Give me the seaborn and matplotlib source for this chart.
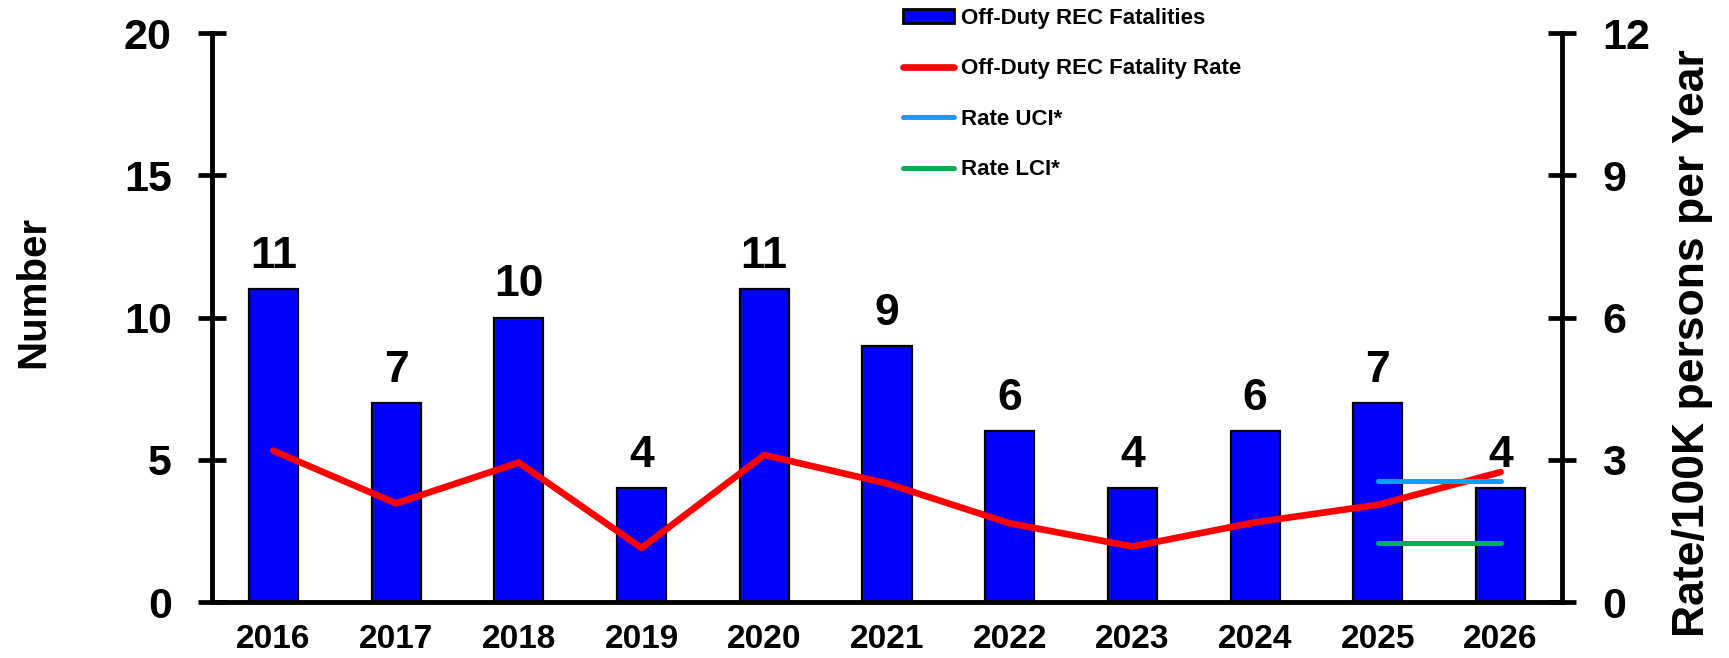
import numpy as np
import pandas as pd
import matplotlib.pyplot as plt
import seaborn as sns
from matplotlib.patches import Patch
from matplotlib.lines import Line2D

# Data
years = [2016, 2017, 2018, 2019, 2020, 2021, 2022, 2023, 2024, 2025, 2026]
fatalities = [11, 7, 10, 4, 11, 9, 6, 4, 6, 7, 4]
fatality_rate = [3.19, 2.08, 2.94, 1.14, 3.1, 2.5, 1.66, 1.17, 1.68, 2.05, 2.74]
ci_years = [2025, 2026]
rate_uci = [2.55, 2.55]
rate_lci = [1.24, 1.24]

sns.set_style("white")
plt.rcParams["font.family"] = ["Liberation Sans", "DejaVu Sans"]
plt.rcParams["font.weight"] = "bold"
for key in ["text.color", "axes.labelcolor", "xtick.color", "ytick.color"]:
    plt.rcParams[key] = "black"

df = pd.DataFrame({"Year": [str(y) for y in years], "Fatalities": fatalities,
                   "Pos": np.arange(len(years)), "Rate": fatality_rate})
ci_df = pd.DataFrame({"Pos": [years.index(y) for y in ci_years],
                      "UCI": rate_uci, "LCI": rate_lci})

fig, ax = plt.subplots(figsize=(17.29, 6.58), dpi=100)
fig.subplots_adjust(left=0.1226, right=0.9034, bottom=0.0851, top=0.9498)

sns.barplot(data=df, x="Year", y="Fatalities", color="#0000FF", saturation=1,
            edgecolor="black", linewidth=1.6, width=0.4, ax=ax)
for i, v in enumerate(fatalities):
    ax.text(i, v + 0.74, str(v), ha="center", va="baseline", fontsize=32, fontweight="bold")

ax2 = ax.twinx()
sns.lineplot(data=df, x="Pos", y="Rate", color="#FF0000", linewidth=4.8, ax=ax2)
sns.lineplot(data=ci_df, x="Pos", y="UCI", color="#0AA0F5", linewidth=3.6,
             solid_capstyle="round", ax=ax2)
sns.lineplot(data=ci_df, x="Pos", y="LCI", color="#00B050", linewidth=3.6,
             solid_capstyle="round", ax=ax2)

ax.set_xlim(-0.5, len(years) - 0.5)
ax.set_ylim(0, 20)
ax.set_yticks([0, 5, 10, 15, 20])
ax2.set_ylim(0, 12)
ax2.set_yticks([0, 3, 6, 9, 12])

# x ticks at category boundaries, labels at centres
ax.set_xticks(np.arange(len(years)), [str(y) for y in years])
ax.set_xticks(np.arange(-0.5, len(years)), minor=True)
ax.tick_params(axis="x", which="major", length=0, pad=16, labelsize=24)
ax.tick_params(axis="x", which="minor", direction="inout", length=20, width=3.4)
ax.tick_params(axis="y", direction="inout", length=20, width=3.4, pad=19, labelsize=31)
ax2.tick_params(axis="y", direction="inout", length=20, width=3.4, pad=19, labelsize=31)

for a in (ax, ax2):
    for s in a.spines.values():
        s.set_visible(False)
    a.set_xlabel("")
ax.spines["left"].set_visible(True)
ax.spines["bottom"].set_visible(True)
ax2.spines["right"].set_visible(True)
for s in [ax.spines["left"], ax.spines["bottom"], ax2.spines["right"]]:
    s.set_linewidth(3.5)
    s.set_color("black")

ax.set_ylabel("Number", fontsize=29, fontweight="bold", va="center")
ax.yaxis.set_label_coords(-0.1326, 0.545)
ax2.set_ylabel("Rate/100K persons per Year", fontsize=32, fontweight="bold", va="center")
ax2.yaxis.set_label_coords(1.097, 0.455)

handles = [Patch(facecolor="#0000FF", edgecolor="black", linewidth=2),
           Line2D([], [], color="#FF0000", linewidth=4.8, solid_capstyle="round"),
           Line2D([], [], color="#0AA0F5", linewidth=3.6, solid_capstyle="round"),
           Line2D([], [], color="#00B050", linewidth=3.6, solid_capstyle="round")]
labels = ["Off-Duty REC Fatalities", "Off-Duty REC Fatality Rate", "Rate UCI*", "Rate LCI*"]
fig.legend(handles, labels, loc="upper left", bbox_to_anchor=(0.5223, 0.988), frameon=False,
           prop={"size": 16, "weight": "bold"}, handlelength=2.3, handleheight=0.55,
           handletextpad=0.3, labelspacing=1.32, borderpad=0, borderaxespad=0)

fig.savefig("out.png", dpi=100)
